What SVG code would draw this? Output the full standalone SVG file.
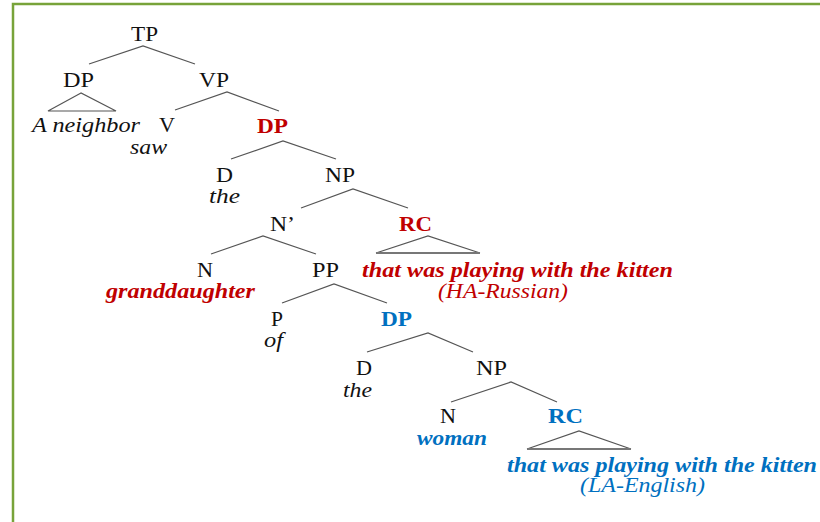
<svg xmlns="http://www.w3.org/2000/svg" width="820" height="522" viewBox="0 0 820 522">
  <style>
    text { font-family: "Liberation Serif", "Times New Roman", serif; font-size: 21px; fill: #111; text-anchor: middle; }
    .it { font-style: italic; }
    .bd { font-weight: bold; }
    .red { fill: #c00000; }
    .blue { fill: #0070c0; }
    .edge { stroke: #555; stroke-width: 1.2; fill: none; }
    .tri { stroke: #555; stroke-width: 1.2; fill: none; }
    .base { stroke: #777; stroke-width: 2; }
    .frame { stroke: #78a33a; stroke-width: 2.5; fill: none; }
  </style>

  <rect width="820" height="522" fill="#ffffff"/>
  <!-- outer frame (open to the right and bottom) -->
  <polyline class="frame" points="13,522 13,4 820,4"/>

  <!-- tree branches -->
  <g id="connectors">
    <polyline class="edge" points="89,64 143,46 195,64"/>
    <polyline class="edge" points="175,110 227,92 279,111"/>
    <polyline class="edge" points="231,159 283,141 336,159"/>
    <polyline class="edge" points="301,208 353,189 408,208"/>
    <polyline class="edge" points="211,254 263,236 316,254"/>
    <polyline class="edge" points="282,303 334,284 387,303"/>
    <polyline class="edge" points="367,352 428,333 473,352"/>
    <polyline class="edge" points="451,402 511,382 557,402"/>
    <!-- collapsed constituents -->
    <polygon class="tri" points="81,93 48,111 116,111"/>
    <polyline class="tri" points="376,253 428,236 480,253"/>
    <line class="base" x1="376" y1="253" x2="480" y2="253"/>
    <polyline class="tri" points="527,449 579,431 631,449"/>
    <line class="base" x1="527" y1="449" x2="631" y2="449"/>
  </g>

  <g id="tp"><text x="144.5" y="41" textLength="27" lengthAdjust="spacingAndGlyphs">TP</text></g>
  <g id="dp-subject">
    <text x="78.5" y="87" textLength="31" lengthAdjust="spacingAndGlyphs">DP</text>
    <text class="it" x="86" y="132" textLength="108" lengthAdjust="spacingAndGlyphs">A neighbor</text>
  </g>
  <g id="vp"><text x="214" y="87" textLength="30" lengthAdjust="spacingAndGlyphs">VP</text></g>
  <g id="v">
    <text x="167" y="132" textLength="16" lengthAdjust="spacingAndGlyphs">V</text>
    <text class="it" x="148.5" y="154" textLength="37" lengthAdjust="spacingAndGlyphs">saw</text>
  </g>
  <g id="dp-object"><text class="bd red" x="272.5" y="133" textLength="31" lengthAdjust="spacingAndGlyphs">DP</text></g>
  <g id="d1">
    <text x="224.5" y="182" textLength="17" lengthAdjust="spacingAndGlyphs">D</text>
    <text class="it" x="224.5" y="203" textLength="31" lengthAdjust="spacingAndGlyphs">the</text>
  </g>
  <g id="np1"><text x="340" y="182" textLength="30" lengthAdjust="spacingAndGlyphs">NP</text></g>
  <g id="nbar"><text x="282.5" y="231" textLength="25" lengthAdjust="spacingAndGlyphs">N’</text></g>
  <g id="rc-high">
    <text class="bd red" x="415.5" y="231" textLength="33" lengthAdjust="spacingAndGlyphs">RC</text>
    <text class="bd it red" x="517.5" y="277" textLength="311" lengthAdjust="spacingAndGlyphs">that was playing with the kitten</text>
    <text class="it red" x="503" y="298" textLength="130" lengthAdjust="spacingAndGlyphs">(HA-Russian)</text>
  </g>
  <g id="n1">
    <text x="205" y="277" textLength="16" lengthAdjust="spacingAndGlyphs">N</text>
    <text class="bd it red" x="180.5" y="298" textLength="149" lengthAdjust="spacingAndGlyphs">granddaughter</text>
  </g>
  <g id="pp"><text x="325.5" y="277" textLength="27" lengthAdjust="spacingAndGlyphs">PP</text></g>
  <g id="p">
    <text x="277" y="326" textLength="12" lengthAdjust="spacingAndGlyphs">P</text>
    <text class="it" x="273.5" y="347" textLength="19" lengthAdjust="spacingAndGlyphs">of</text>
  </g>
  <g id="dp-low"><text class="bd blue" x="396.5" y="326" textLength="31" lengthAdjust="spacingAndGlyphs">DP</text></g>
  <g id="d2">
    <text x="364" y="375" textLength="16" lengthAdjust="spacingAndGlyphs">D</text>
    <text class="it" x="357.5" y="397" textLength="29" lengthAdjust="spacingAndGlyphs">the</text>
  </g>
  <g id="np2"><text x="491.5" y="375" textLength="31" lengthAdjust="spacingAndGlyphs">NP</text></g>
  <g id="n2">
    <text x="448" y="423" textLength="16" lengthAdjust="spacingAndGlyphs">N</text>
    <text class="bd it blue" x="452" y="445" textLength="70" lengthAdjust="spacingAndGlyphs">woman</text>
  </g>
  <g id="rc-low">
    <text class="bd blue" x="565.5" y="423" textLength="35" lengthAdjust="spacingAndGlyphs">RC</text>
    <text class="bd it blue" x="662" y="472" textLength="310" lengthAdjust="spacingAndGlyphs">that was playing with the kitten</text>
    <text class="it blue" x="642.5" y="492" textLength="125" lengthAdjust="spacingAndGlyphs">(LA-English)</text>
  </g>
</svg>
